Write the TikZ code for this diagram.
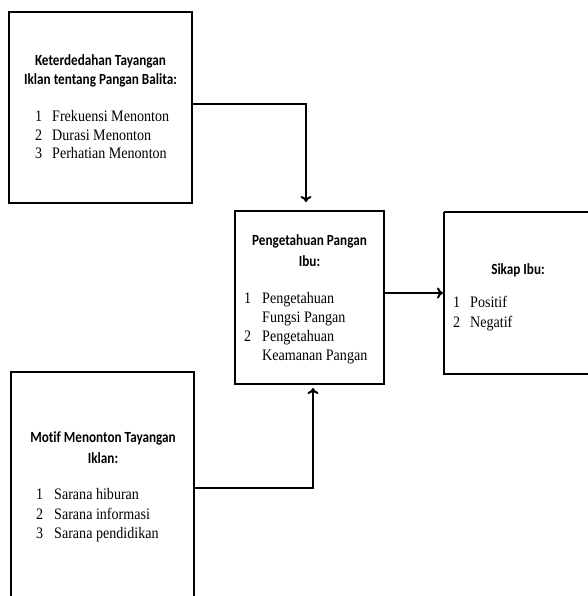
\documentclass[tikz,border=0pt]{standalone}
\usepackage{fontspec}
\usetikzlibrary{arrows.meta}
\newfontfamily\hdfont[FakeStretch=0.85,Ligatures=NoCommon]{Carlito}
\newfontfamily\lsfont[FakeStretch=0.88]{Liberation Serif}
\begin{document}
\begin{tikzpicture}[x=1pt,y=-1pt,
  boxstyle/.style={draw=black,line width=2pt},
  hd/.style={inner sep=0pt,font=\hdfont\bfseries\fontsize{15.5}{20}\selectfont,align=center,anchor=base},
  li/.style={inner sep=0pt,font=\lsfont\fontsize{16}{19}\selectfont,anchor=base west},
  conn/.style={line width=2pt,-{To[length=6pt,width=11pt,line width=2pt]}}]
\useasboundingbox (0,0) rectangle (587,596);
% boxes
\draw[boxstyle] (9,12) rectangle (192,203);
\coordinate (b1r) at (192,104);
\draw[boxstyle] (235,211) rectangle (384,384);
\coordinate (b2t) at (306,211);
\coordinate (b2b) at (313,385);
\coordinate (b2r) at (384,293);
\draw[boxstyle] (444,212) -- (600,212) (444,212) -- (444,374) -- (600,374);
\coordinate (b3l) at (444,293);
\draw[boxstyle] (11,610) -- (11,372) -- (194,372) -- (194,610);
\coordinate (b4r) at (194,488);
% texts box1
\node[hd] (t1a) at (100.5,66) {Keterdedahan Tayangan};
\node[hd] (t1b) at (100.5,85) {Iklan tentang Pangan Balita:};
\node[li] (t1n1) at (35,122) {1};
\node[li] (t1l1) at (52,122) {Frekuensi Menonton};
\node[li] (t1n2) at (35,141) {2};
\node[li] (t1l2) at (52,141) {Durasi Menonton};
\node[li] (t1n3) at (35,159) {3};
\node[li] (t1l3) at (52,159) {Perhatian Menonton};
% texts box2
\node[hd] (t2a) at (309.5,245) {Pengetahuan Pangan};
\node[hd] (t2b) at (309.5,266) {Ibu:};
\node[li] (t2n1) at (244,303) {1};
\node[li] (t2l1) at (262,303) {Pengetahuan};
\node[li] (t2l1b) at (262,322) {Fungsi Pangan};
\node[li] (t2n2) at (244,341) {2};
\node[li] (t2l2) at (262,341) {Pengetahuan};
\node[li] (t2l2b) at (262,360) {Keamanan Pangan};
% texts box3
\node[hd] (t3a) at (518,274) {Sikap Ibu:};
\node[li] (t3n1) at (453,307) {1};
\node[li] (t3l1) at (470,307) {Positif};
\node[li] (t3n2) at (453,327) {2};
\node[li] (t3l2) at (470,327) {Negatif};
% texts box4
\node[hd] (t4a) at (103,442) {Motif Menonton Tayangan};
\node[hd] (t4b) at (103,463) {Iklan:};
\node[li] (t4n1) at (36,499) {1};
\node[li] (t4l1) at (54,499) {Sarana hiburan};
\node[li] (t4n2) at (36,519) {2};
\node[li] (t4l2) at (54,519) {Sarana informasi};
\node[li] (t4n3) at (36,538) {3};
\node[li] (t4l3) at (54,538) {Sarana pendidikan};
% connectors
\draw[conn] (b1r) -| ([yshift=9pt]b2t);
\draw[conn] (b2r) -- ([xshift=-1pt]b3l);
\draw[conn] (b4r) -| ([yshift=-3pt]b2b);
\end{tikzpicture}
\end{document}
